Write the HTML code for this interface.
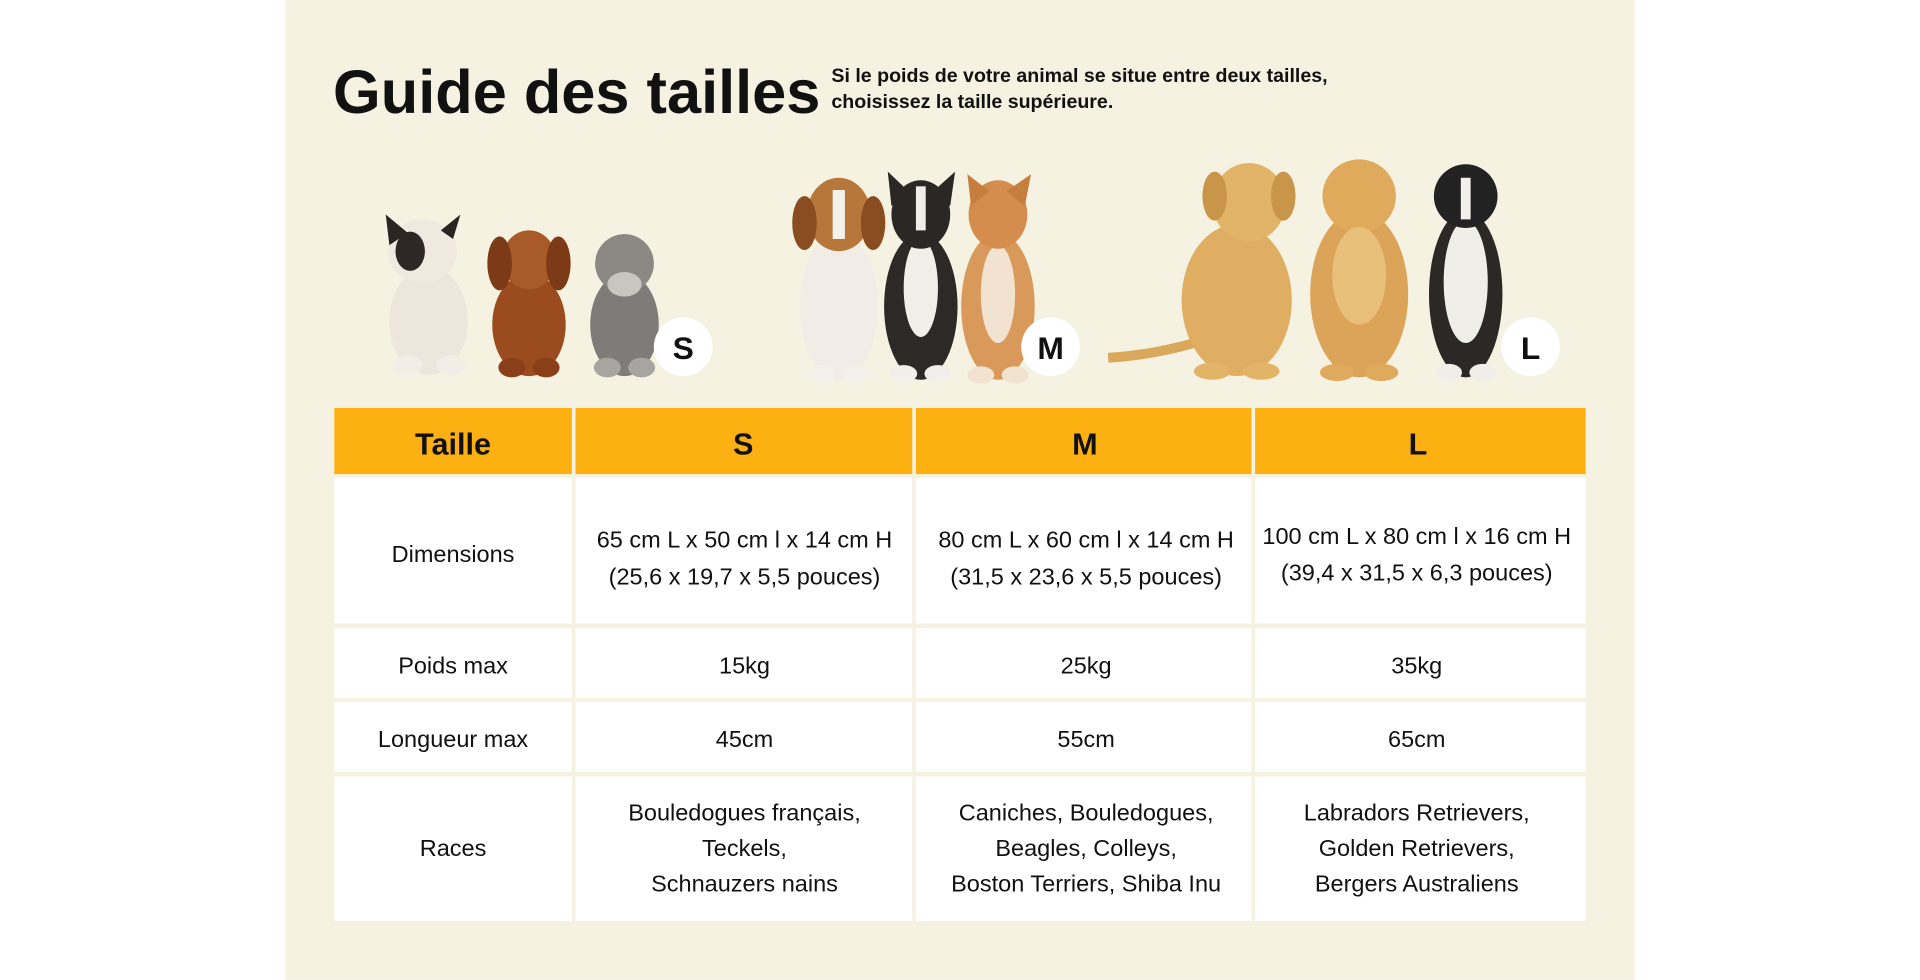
<!DOCTYPE html>
<html><head><meta charset="utf-8"><style>
html,body{margin:0;padding:0;background:#fff;width:1920px;height:980px;overflow:hidden}
svg{display:block}
text{font-family:"Liberation Sans",sans-serif;fill:#111}
</style></head><body>
<svg width="1920" height="980" viewBox="0 0 1568 800">
<rect x="233" y="0" width="1102" height="800" fill="#f5f2e1"/>
<text x="272" y="92" font-size="50" font-weight="bold" textLength="398" lengthAdjust="spacingAndGlyphs">Guide des tailles</text>
<text x="679" y="67" font-size="16" font-weight="bold"><tspan x="679">Si le poids de votre animal se situe entre deux tailles,</tspan><tspan x="679" dy="21">choisissez la taille supérieure.</tspan></text>

<g>
 <ellipse cx="350" cy="262" rx="32" ry="44" fill="#ece6dc"/><ellipse cx="333" cy="298" rx="12" ry="8" fill="#f2ede6"/><ellipse cx="368" cy="298" rx="12" ry="8" fill="#f2ede6"/><ellipse cx="345" cy="205" rx="28" ry="26" fill="#efe9e0"/><path d="M318 200 L315 175 L333 190 Z M370 195 L376 175 L360 188 Z" fill="#2b2522"/><ellipse cx="335" cy="205" rx="12" ry="16" fill="#2d2826"/>
 <ellipse cx="432" cy="265" rx="30" ry="42" fill="#9b4c1f"/><ellipse cx="418" cy="300" rx="11" ry="8" fill="#8a3f18"/><ellipse cx="446" cy="300" rx="11" ry="8" fill="#8a3f18"/><ellipse cx="432" cy="212" rx="22" ry="24" fill="#a85a28"/><ellipse cx="408" cy="215" rx="10" ry="22" fill="#7c3a16"/><ellipse cx="456" cy="215" rx="10" ry="22" fill="#7c3a16"/>
 <ellipse cx="510" cy="265" rx="28" ry="42" fill="#7e7b78"/><ellipse cx="496" cy="300" rx="11" ry="8" fill="#a8a49f"/><ellipse cx="524" cy="300" rx="11" ry="8" fill="#a8a49f"/><ellipse cx="510" cy="215" rx="24" ry="24" fill="#8c8884"/><ellipse cx="510" cy="232" rx="14" ry="10" fill="#c9c5c0"/>
</g>
<g>
 <ellipse cx="685" cy="250" rx="32" ry="60" fill="#f1ede6"/><ellipse cx="670" cy="305" rx="12" ry="7" fill="#f4f0ea"/><ellipse cx="700" cy="305" rx="12" ry="7" fill="#f4f0ea"/><ellipse cx="685" cy="175" rx="26" ry="30" fill="#b8773a"/><rect x="680" y="155" width="10" height="40" fill="#f4f0ea"/><ellipse cx="657" cy="182" rx="10" ry="22" fill="#8a4d22"/><ellipse cx="713" cy="182" rx="10" ry="22" fill="#8a4d22"/>
 <ellipse cx="752" cy="250" rx="30" ry="60" fill="#2c2927"/><ellipse cx="752" cy="235" rx="14" ry="40" fill="#f2efea"/><ellipse cx="738" cy="305" rx="11" ry="7" fill="#f2efea"/><ellipse cx="766" cy="305" rx="11" ry="7" fill="#f2efea"/><ellipse cx="752" cy="175" rx="24" ry="28" fill="#2a2725"/><path d="M728 168 L725 140 L744 158 Z M776 168 L780 140 L760 158 Z" fill="#2a2725"/><rect x="748" y="152" width="8" height="36" fill="#f0ede8"/>
 <ellipse cx="815" cy="250" rx="30" ry="60" fill="#d9995a"/><ellipse cx="815" cy="240" rx="14" ry="40" fill="#f1e3cf"/><ellipse cx="801" cy="306" rx="11" ry="7" fill="#f1e3cf"/><ellipse cx="829" cy="306" rx="11" ry="7" fill="#f1e3cf"/><ellipse cx="815" cy="175" rx="24" ry="28" fill="#d48d4c"/><path d="M793 168 L790 142 L808 156 Z M837 168 L842 142 L822 156 Z" fill="#c67e3e"/>
</g>
<g>
 <path d="M905 292 Q940 290 975 280" stroke="#d9a85a" stroke-width="8" fill="none"/>
 <ellipse cx="1010" cy="245" rx="45" ry="62" fill="#dfae62"/><ellipse cx="990" cy="303" rx="15" ry="7" fill="#e2b468"/><ellipse cx="1030" cy="303" rx="15" ry="7" fill="#e2b468"/><ellipse cx="1020" cy="165" rx="30" ry="32" fill="#e2b468"/><ellipse cx="992" cy="160" rx="10" ry="20" fill="#c99548"/><ellipse cx="1048" cy="160" rx="10" ry="20" fill="#c99548"/>
 <ellipse cx="1110" cy="240" rx="40" ry="68" fill="#dca458"/><ellipse cx="1092" cy="304" rx="14" ry="7" fill="#e0aa5c"/><ellipse cx="1128" cy="304" rx="14" ry="7" fill="#e0aa5c"/><ellipse cx="1110" cy="160" rx="30" ry="30" fill="#e0aa5c"/><ellipse cx="1110" cy="225" rx="22" ry="40" fill="#e8c07a"/>
 <ellipse cx="1197" cy="240" rx="30" ry="68" fill="#2b2826"/><ellipse cx="1197" cy="230" rx="18" ry="50" fill="#f0eee9"/><ellipse cx="1183" cy="304" rx="11" ry="7" fill="#f0eee9"/><ellipse cx="1211" cy="304" rx="11" ry="7" fill="#f0eee9"/><ellipse cx="1197" cy="160" rx="26" ry="26" fill="#222"/><rect x="1193" y="145" width="8" height="34" fill="#f2f0ec"/>
</g>
<g>
 <circle cx="558" cy="283" r="24" fill="#fff"/><text x="558" y="293" font-size="26" font-weight="bold" text-anchor="middle">S</text>
 <circle cx="858" cy="283" r="24" fill="#fff"/><text x="858" y="293" font-size="26" font-weight="bold" text-anchor="middle">M</text>
 <circle cx="1250" cy="283" r="24" fill="#fff"/><text x="1250" y="293" font-size="26" font-weight="bold" text-anchor="middle">L</text>
</g>

<g>
 <g fill="#fdb012">
  <rect x="273" y="333" width="194" height="54"/><rect x="470" y="333" width="275" height="54"/><rect x="748" y="333" width="274" height="54"/><rect x="1025" y="333" width="270" height="54"/>
 </g>
 <g font-size="25" font-weight="bold" text-anchor="middle">
  <text x="370" y="371">Taille</text>
  <text x="607" y="371">S</text>
  <text x="886" y="371">M</text>
  <text x="1158" y="371">L</text>
 </g>
 <g fill="#fff">
  <rect x="273" y="390" width="194" height="119"/><rect x="470" y="390" width="275" height="119"/><rect x="748" y="390" width="274" height="119"/><rect x="1025" y="390" width="270" height="119"/>
  <rect x="273" y="513" width="194" height="57"/><rect x="470" y="513" width="275" height="57"/><rect x="748" y="513" width="274" height="57"/><rect x="1025" y="513" width="270" height="57"/>
  <rect x="273" y="573" width="194" height="57"/><rect x="470" y="573" width="275" height="57"/><rect x="748" y="573" width="274" height="57"/><rect x="1025" y="573" width="270" height="57"/>
  <rect x="273" y="634" width="194" height="118"/><rect x="470" y="634" width="275" height="118"/><rect x="748" y="634" width="274" height="118"/><rect x="1025" y="634" width="270" height="118"/>
 </g>
 <g font-size="19.2" text-anchor="middle">
  <text x="370" y="459">Dimensions</text>
  <text x="608" y="447"><tspan x="608">65 cm L x 50 cm l x 14 cm H</tspan><tspan x="608" dy="30">(25,6 x 19,7 x 5,5 pouces)</tspan></text>
  <text x="887" y="447"><tspan x="887">80 cm L x 60 cm l x 14 cm H</tspan><tspan x="887" dy="30">(31,5 x 23,6 x 5,5 pouces)</tspan></text>
  <text x="1157" y="444"><tspan x="1157">100 cm L x 80 cm l x 16 cm H</tspan><tspan x="1157" dy="30">(39,4 x 31,5 x 6,3 pouces)</tspan></text>
  <text x="370" y="550">Poids max</text>
  <text x="608" y="550">15kg</text>
  <text x="887" y="550">25kg</text>
  <text x="1157" y="550">35kg</text>
  <text x="370" y="610">Longueur max</text>
  <text x="608" y="610">45cm</text>
  <text x="887" y="610">55cm</text>
  <text x="1157" y="610">65cm</text>
  <text x="370" y="699">Races</text>
  <text x="608" y="670"><tspan x="608">Bouledogues français,</tspan><tspan x="608" dy="29">Teckels,</tspan><tspan x="608" dy="29">Schnauzers nains</tspan></text>
  <text x="887" y="670"><tspan x="887">Caniches, Bouledogues,</tspan><tspan x="887" dy="29">Beagles, Colleys,</tspan><tspan x="887" dy="29">Boston Terriers, Shiba Inu</tspan></text>
  <text x="1157" y="670"><tspan x="1157">Labradors Retrievers,</tspan><tspan x="1157" dy="29">Golden Retrievers,</tspan><tspan x="1157" dy="29">Bergers Australiens</tspan></text>
 </g>
</g>
</svg>
</body></html>
